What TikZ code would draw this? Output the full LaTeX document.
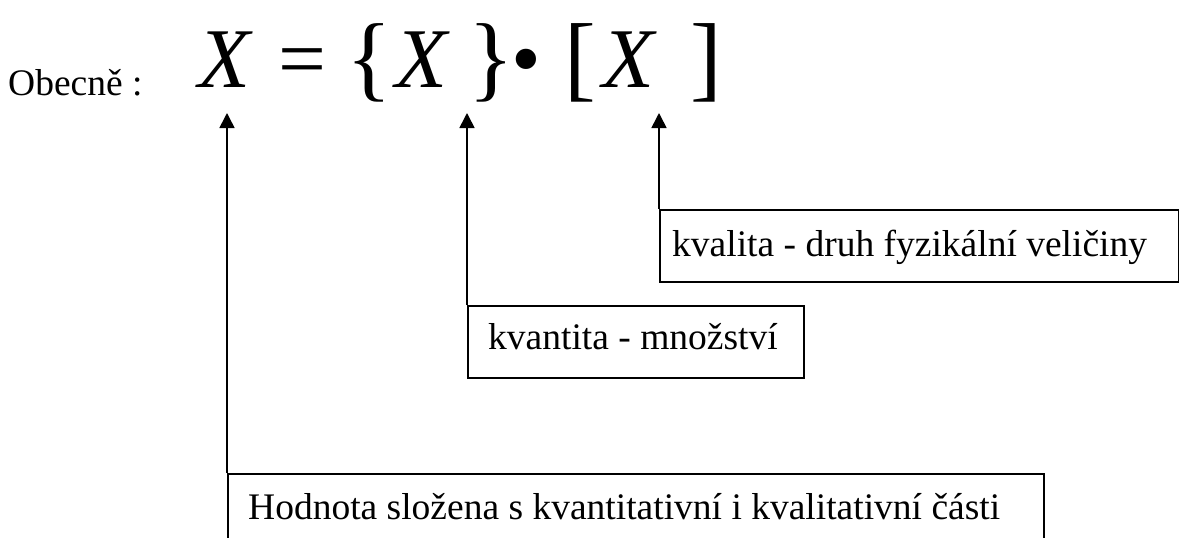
\documentclass[tikz,border=0pt]{standalone}
\usepackage{fontspec}
\setmainfont{Liberation Serif}
\usetikzlibrary{arrows.meta}
\begin{document}
\begin{tikzpicture}[x=1pt,y=-1pt,
  lbl/.style={font=\fontsize{37.5}{45}\selectfont, inner sep=0pt, anchor=base west},
  frm/.style={font=\fontsize{85}{100}\selectfont, inner sep=0pt, anchor=base},
  brk/.style={font=\fontsize{95}{110}\selectfont, inner sep=0pt, anchor=base},
  boxshape/.style={draw=black, line width=1.6pt, rectangle, inner sep=0pt, anchor=north west},
  up/.style={line width=1.6pt, -{Triangle[width=15pt,length=15pt]}}]
\useasboundingbox (0,0) rectangle (1179,538);
\clip (0,0) rectangle (1179,538);
% formula
\node[lbl] (obec) at (8,95) {Obecně :};
\node[frm] (x1) at (224,87) {\itshape X};
\node[frm] (eq) at (302,87) {=};
\node[brk] (lb) at (369,89) {\{};
\node[frm] (x2) at (421,87) {\itshape X};
\node[brk] (rb) at (491,89) {\}};
\node[frm] (dot) at (526,87) {•};
\node[brk] (ls) at (580,89) {[};
\node[frm] (x3) at (628,87) {\itshape X};
\node[brk] (rs) at (706,89) {]};
% arrow tips
\coordinate (t1) at (227,113);
\coordinate (t2) at (467,113);
\coordinate (t3) at (659,113);
% boxes
\node[boxshape, minimum width=519pt, minimum height=72pt] (b1) at (659,209) {};
\node[boxshape, minimum width=336pt, minimum height=72pt] (b2) at (467,305) {};
\node[boxshape, minimum width=816pt, minimum height=100pt] (b3) at (227,473) {};
\node[lbl] (l1) at (672,256) {kvalita - druh fyzikální veličiny};
\node[lbl] (l2) at (488,349) {kvantita - množství};
\node[lbl] (l3) at (248,519) {Hodnota složena s kvantitativní i kvalitativní části};
% arrows
\draw[up] (b1.north west) -- (t3);
\draw[up] (b2.north west) -- (t2);
\draw[up] (b3.north west) -- (t1);
\end{tikzpicture}
\end{document}
